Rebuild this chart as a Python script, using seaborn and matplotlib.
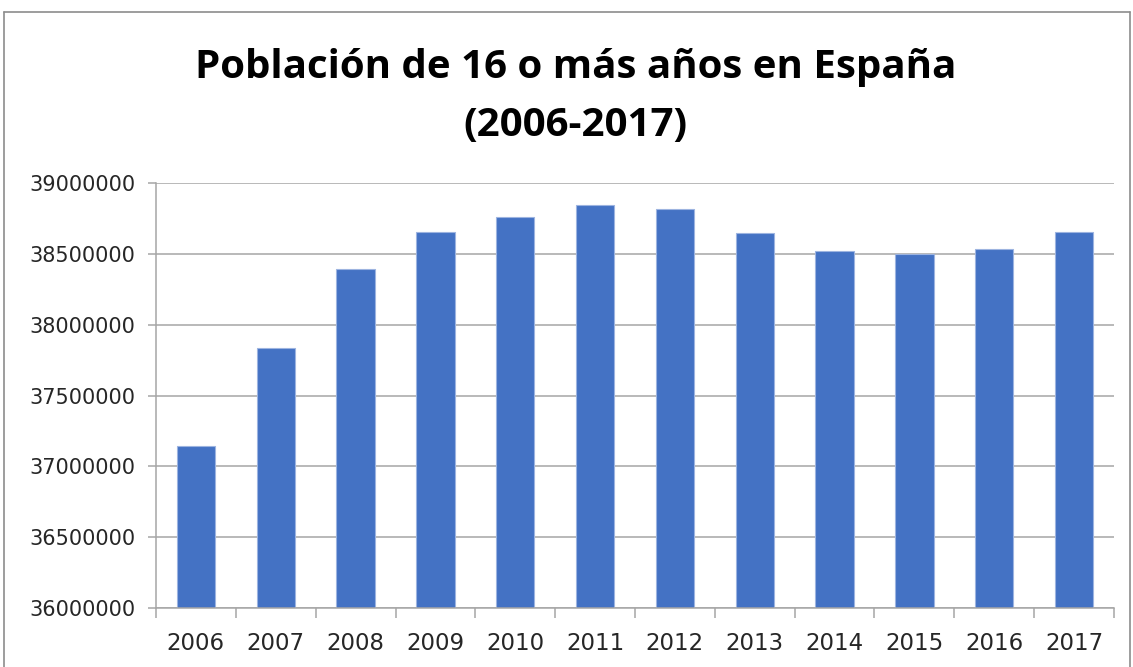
import pandas as pd
import seaborn as sns
import matplotlib.pyplot as plt
from matplotlib.lines import Line2D
from matplotlib.ticker import StrMethodFormatter

# population aged 16+ in Spain
years = ['2006', '2007', '2008', '2009', '2010', '2011',
         '2012', '2013', '2014', '2015', '2016', '2017']
population = [37145000, 37836000, 38391000, 38653000, 38759000, 38844000,
              38816000, 38646000, 38518000, 38502000, 38535000, 38653000]
y_ticks = [36000000, 36500000, 37000000, 37500000, 38000000, 38500000, 39000000]

df = pd.DataFrame({'year': years, 'population': population})

sns.set_style('white')
plt.rcParams['font.family'] = ['DejaVu Sans']

fig = plt.figure(figsize=(11.33, 6.67), dpi=100)
ax = fig.add_axes([156 / 1133, 1 - 608 / 667, (1114 - 156) / 1133, (608 - 183) / 667])

sns.barplot(data=df, x='year', y='population', color='#4472C4', width=0.48,
            edgecolor='#9db4e0', linewidth=0.8, saturation=1, ax=ax)

ax.set_ylim(y_ticks[0], y_ticks[-1])
ax.set_xlim(-0.5, len(years) - 0.5)
ax.set_yticks(y_ticks)
ax.yaxis.set_major_formatter(StrMethodFormatter('{x:.0f}'))
ax.set_xlabel('')
ax.set_ylabel('')

ax.yaxis.grid(True, color='#a6a6a6', linewidth=1.1)
ax.set_axisbelow(True)

for side in ['top', 'right']:
    ax.spines[side].set_visible(False)
for side in ['left', 'bottom']:
    ax.spines[side].set_color('#a6a6a6')
    ax.spines[side].set_linewidth(1.1)

# category-boundary ticks on the x axis, like the spreadsheet original
ax.set_xticks([i - 0.5 for i in range(len(years) + 1)], minor=True)
ax.tick_params(axis='x', which='minor', length=7, width=1.1, color='#a6a6a6', bottom=True)
ax.tick_params(axis='x', which='major', length=0, pad=17, labelsize=16.5, labelcolor='#262626')
ax.tick_params(axis='y', which='major', length=6, width=1.1, color='#a6a6a6', left=True,
               pad=9, labelsize=15, labelcolor='#262626')

fig.text(0.508, 0.855, 'Población de 16 o más años en España\n(2006-2017)',
         ha='center', va='center', fontsize=29, fontweight='bold',
         family=['Open Sans', 'DejaVu Sans'], linespacing=1.65, color='black')

# chart frame
frame_kw = dict(color='#8c8c8c', linewidth=1.2, transform=fig.transFigure)
fig.add_artist(Line2D([4 / 1133, 1130 / 1133], [1 - 12 / 667, 1 - 12 / 667], **frame_kw))
fig.add_artist(Line2D([4 / 1133, 4 / 1133], [0, 1 - 12 / 667], **frame_kw))
fig.add_artist(Line2D([1130 / 1133, 1130 / 1133], [0, 1 - 12 / 667], **frame_kw))

fig.savefig('out.png', dpi=100)
